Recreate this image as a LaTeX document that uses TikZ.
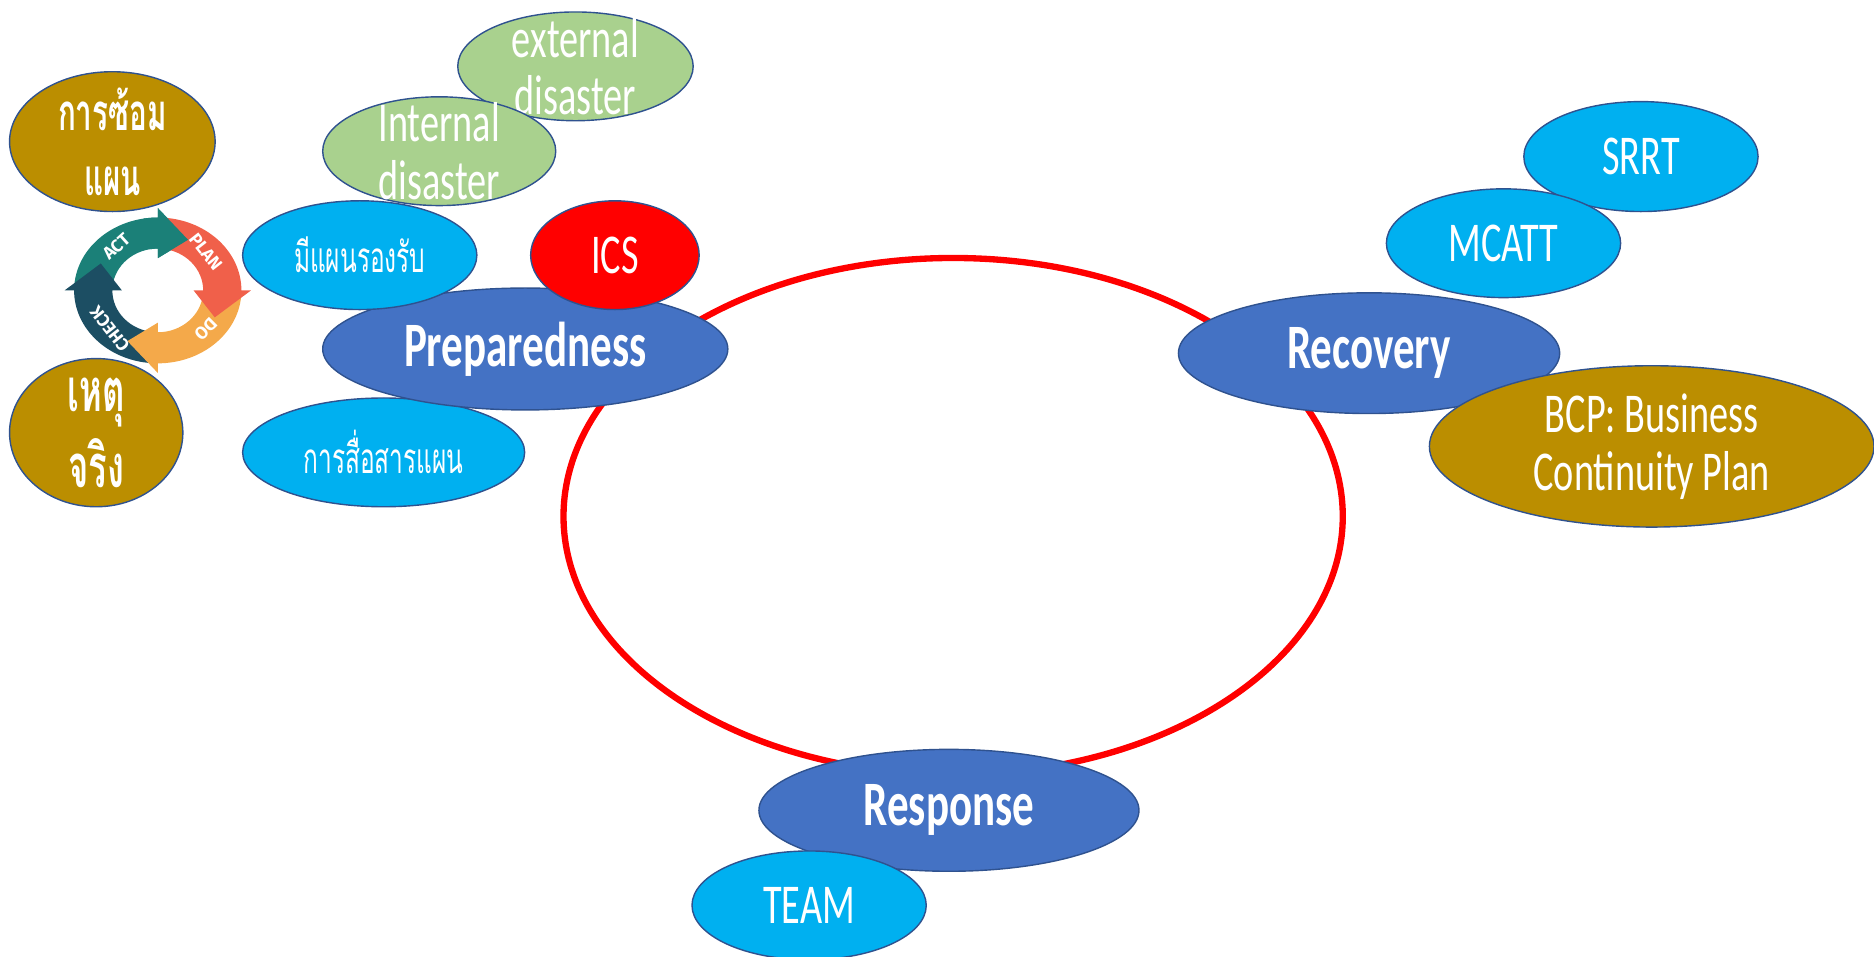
\documentclass[tikz,border=0pt]{standalone}
\usepackage{fontspec}
\usetikzlibrary{shapes.geometric}
\setmainfont{Carlito}
\newfontfamily\lat[FakeStretch=0.68]{Carlito}
\newfontfamily\latb[FakeStretch=0.68]{Carlito Bold}
\newfontfamily\thai[Script=Thai,FakeStretch=0.58]{Loma}
\newfontfamily\pdca{Fira Sans Bold}
\definecolor{edgeblue}{HTML}{2F528F}
\definecolor{mainblue}{HTML}{4472C4}
\definecolor{skyblue}{HTML}{00B0F0}
\definecolor{leaf}{HTML}{A9D18E}
\definecolor{gold}{HTML}{BB8E00}
\definecolor{actc}{HTML}{1B8078}
\definecolor{planc}{HTML}{F0604A}
\definecolor{doc}{HTML}{F4A94A}
\definecolor{checkc}{HTML}{1C4E63}
\tikzset{
  bub/.style={ellipse,draw=edgeblue,line width=0.8pt,inner sep=-40pt,text=white,align=center},
  mainb/.style={bub,fill=mainblue,font=\fontsize{36}{36}\latb},
  sky/.style={bub,fill=skyblue,font=\fontsize{32}{32}\lat},
  skyth/.style={bub,fill=skyblue,font=\fontsize{24}{24}\thai},
  green/.style={bub,fill=leaf,font=\fontsize{32}{32.5}\lat},
  goldb/.style={bub,fill=gold,font=\fontsize{32}{33}\lat},
  goldth/.style={bub,fill=gold,font=\fontsize{29}{37}\thai\bfseries},
  redb/.style={bub,fill=red,font=\fontsize{32}{32}\lat},
  pdcat/.style={text=white,font=\fontsize{10}{10}\pdca,inner sep=0pt}
}
% #1 colour, #2 tail angle, #3 head base angle, #4 tip angle (clockwise)
\newcommand{\pdcarrow}[4]{%
  \fill[#1] (#2:70 and 61) arc[start angle=#2,end angle=#3,x radius=70,y radius=61]
    -- (#3:78 and 69) -- (#4:54 and 48) -- (#3:30 and 27) -- (#3:38 and 35)
    arc[start angle=#3,end angle=#2,x radius=38,y radius=35] -- cycle;}
\begin{document}
\begin{tikzpicture}[x=0.0239cm,y=-0.0239cm]
\useasboundingbox (0,0) rectangle (1568,800);
% PDCA cycle
\begin{scope}[shift={(132,243)},yscale=-1]
  \pdcarrow{actc}{175}{90}{62}
  \pdcarrow{checkc}{265}{180}{152}
  \pdcarrow{doc}{355}{270}{242}
  \pdcarrow{planc}{85}{0}{-28}
  \pdcarrow{actc}{100}{90}{62}
  \node[pdcat,rotate=42] (act) at (130:54 and 48) {ACT};
  \node[pdcat,rotate=-52] (plan) at (42:54 and 48) {PLAN};
  \node[pdcat,rotate=-135] (do) at (-42:54 and 48) {DO};
  \node[pdcat,rotate=128] (check) at (222:54 and 48) {CHECK};
\end{scope}
% main cycle ring
\node[ellipse,draw=red,line width=3.6pt,inner sep=0pt,
  minimum width=15.58cm,minimum height=10.33cm] (ring) at (797.5,432) {};
% bubbles
\node[green,minimum width=197*0.0239cm,minimum height=91*0.0239cm] (ext) at (481.5,55.5) {external\\disaster};
\node[green,minimum width=195*0.0239cm,minimum height=91*0.0239cm] (int) at (367.5,126.5) {Internal\\disaster};
\node[goldth,minimum width=172*0.0239cm,minimum height=117*0.0239cm] (drill) at (94,118.5) {การซ้อม\\แผน};
\node[bub,fill=gold,font=\fontsize{34}{43}\thai\bfseries,minimum width=145*0.0239cm,minimum height=124*0.0239cm] (real) at (80.5,362) {เหตุ\\จริง};
\node[skyth,minimum width=236*0.0239cm,minimum height=91*0.0239cm] (comm) at (321,378.5) {การสื่อสารแผน};
\node[mainb,minimum width=339*0.0239cm,minimum height=102*0.0239cm] (prep) at (439.5,292) {Preparedness};
\node[skyth,minimum width=196*0.0239cm,minimum height=91*0.0239cm] (plan2) at (301,213.5) {มีแผนรองรับ};
\node[redb,minimum width=141*0.0239cm,minimum height=91*0.0239cm] (ics) at (514.5,213.5) {ICS};
\node[mainb,minimum width=319*0.0239cm,minimum height=101*0.0239cm] (rec) at (1145.5,295.5) {Recovery};
\node[sky,minimum width=196*0.0239cm,minimum height=92*0.0239cm] (srrt) at (1373,131) {SRRT};
\node[sky,minimum width=196*0.0239cm,minimum height=91*0.0239cm] (mcatt) at (1258,203.5) {MCATT};
\node[goldb,minimum width=372*0.0239cm,minimum height=135*0.0239cm] (bcp) at (1382,373.5) {BCP: Business\\Continuity Plan};
\node[mainb,minimum width=318*0.0239cm,minimum height=102*0.0239cm] (resp) at (794,678) {Response};
\node[sky,minimum width=196*0.0239cm,minimum height=91*0.0239cm] (team) at (677,757.5) {TEAM};
\end{tikzpicture}
\end{document}
